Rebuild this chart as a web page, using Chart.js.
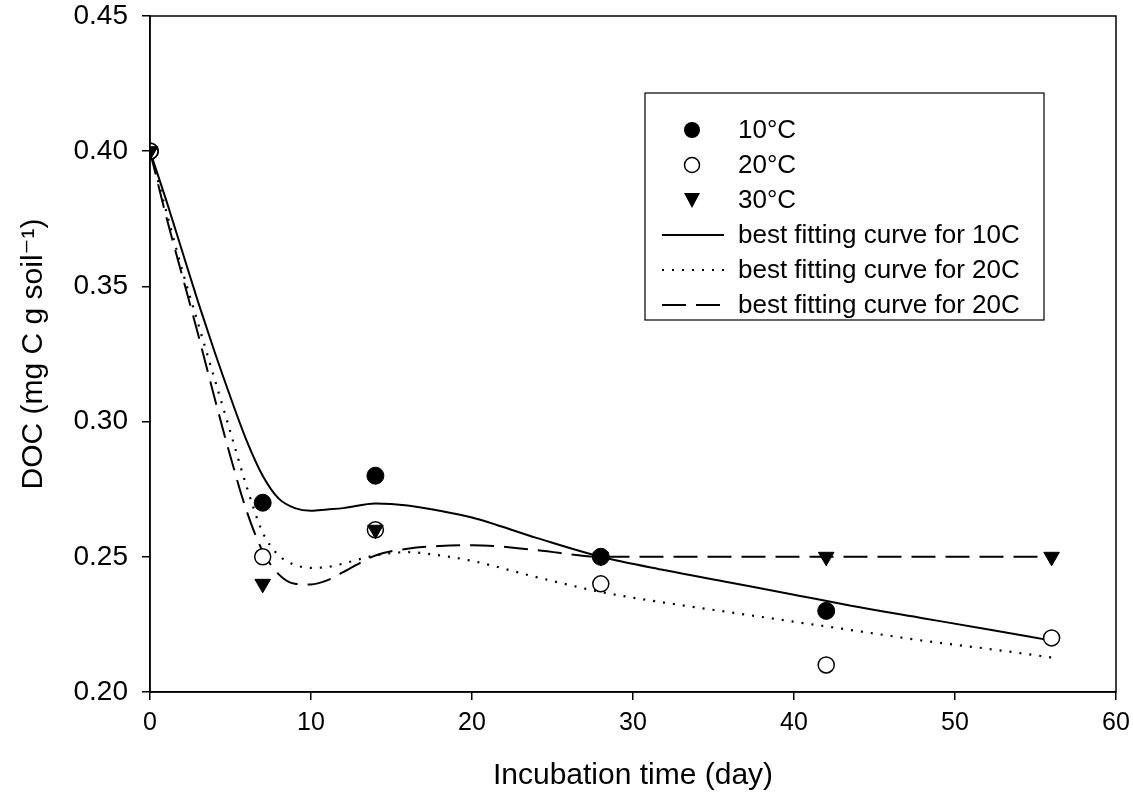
<!DOCTYPE html>
<html>
<head>
<meta charset="utf-8">
<script src="https://cdn.jsdelivr.net/npm/chart.js@4.4.1/dist/chart.umd.min.js"></script>
<style>
  html, body { margin: 0; padding: 0; background: #fff; }
  #wrap { width: 1133px; height: 805px; }
</style>
</head>
<body>
<div id="wrap"><canvas id="docChart" width="1133" height="805"></canvas></div>
<script>
// DONNÉES MESURÉES
const sampleDays = [0, 7, 14, 28, 42, 56];
const doc10 = [0.40, 0.27, 0.28, 0.25, 0.23, null];
const doc20 = [0.40, 0.25, 0.26, 0.24, 0.21, 0.22];
const doc30 = [0.40, 0.24, 0.26, 0.25, 0.25, 0.25];

// COURBES AJUSTÉES
const curveDays = [0, 1, 2, 3, 4, 5, 6, 7, 8, 9, 10, 11, 12, 14, 16, 18, 20, 24, 28, 32, 36, 40, 44, 48, 52, 56];
const fit10 = [0.400, 0.382, 0.363, 0.344, 0.326, 0.309, 0.293, 0.280, 0.2715, 0.268, 0.267, 0.2675, 0.268, 0.2697, 0.269, 0.267, 0.2645, 0.257, 0.250, 0.245, 0.2405, 0.236, 0.2314, 0.2273, 0.2232, 0.219];
const fit20 = [0.400, 0.378, 0.356, 0.336, 0.316, 0.296, 0.276, 0.259, 0.2505, 0.247, 0.2459, 0.2462, 0.2475, 0.2505, 0.2517, 0.2505, 0.2485, 0.2425, 0.237, 0.233, 0.2295, 0.226, 0.2225, 0.219, 0.216, 0.2128];
const fit30 = [0.400, 0.376, 0.354, 0.332, 0.309, 0.287, 0.267, 0.252, 0.2435, 0.2400, 0.2398, 0.2413, 0.2443, 0.2505, 0.253, 0.254, 0.2543, 0.2525, 0.250, 0.250, 0.250, 0.250, 0.250, 0.250, 0.250, 0.250];

const seriesLabels = ['10\u00B0C', '20\u00B0C', '30\u00B0C'];
const curveLabels = ['best fitting curve for 10C', 'best fitting curve for 20C', 'best fitting curve for 20C'];
const xTicks = [0, 10, 20, 30, 40, 50, 60];
const yTicks = [0.20, 0.25, 0.30, 0.35, 0.40, 0.45];

const FONT = '"Liberation Sans", Arial, "DejaVu Sans", sans-serif';

function pairs(xs, ys) {
  return xs.map((x, i) => ({ x: x, y: ys[i] })).filter(p => p.y !== null);
}

// CADRE + LÉGENDE
const framePlugin = {
  id: 'frame',
  afterDraw(chart) {
    const ctx = chart.ctx;
    const a = chart.chartArea;
    ctx.save();
    ctx.strokeStyle = '#000';
    ctx.lineWidth = 1.5;
    ctx.strokeRect(a.left, a.top, a.right - a.left, a.bottom - a.top);

    // boîte de légende
    const box = { left: 645, top: 93, right: 1044, bottom: 320 };
    ctx.fillStyle = '#fff';
    ctx.fillRect(box.left, box.top, box.right - box.left, box.bottom - box.top);
    ctx.lineWidth = 1.2;
    ctx.strokeRect(box.left, box.top, box.right - box.left, box.bottom - box.top);

    ctx.font = '26px ' + FONT;
    ctx.textBaseline = 'middle';
    ctx.fillStyle = '#000';
    const ds = chart.data.datasets;
    const rowY = i => 130 + i * 35;
    const mx = 692;

    // marqueurs
    ctx.beginPath(); ctx.arc(mx, rowY(0), 8, 0, Math.PI * 2); ctx.fill();
    ctx.beginPath(); ctx.arc(mx, rowY(1), 7.5, 0, Math.PI * 2); ctx.lineWidth = 1.5; ctx.stroke();
    ctx.beginPath();
    ctx.moveTo(mx - 8, rowY(2) - 7); ctx.lineTo(mx + 8, rowY(2) - 7); ctx.lineTo(mx, rowY(2) + 8);
    ctx.closePath(); ctx.fill();

    // traits
    for (let k = 0; k < 3; k++) {
      const d = ds[3 + k];
      ctx.beginPath();
      ctx.setLineDash(d.borderDash || []);
      ctx.lineWidth = d.borderWidth;
      ctx.moveTo(662, rowY(3 + k));
      ctx.lineTo(724, rowY(3 + k));
      ctx.stroke();
    }
    ctx.setLineDash([]);

    for (let i = 0; i < 6; i++) {
      ctx.fillText(ds[i].label, 738, rowY(i) + 1);
    }
    ctx.restore();
  }
};

const ctx = document.getElementById('docChart').getContext('2d');
const myChart = new Chart(ctx, {
  type: 'scatter',
  data: {
    datasets: [
      { label: seriesLabels[0], data: pairs(sampleDays, doc10), pointStyle: 'circle', pointRadius: 8.5,
        backgroundColor: '#000', borderColor: '#000', borderWidth: 1, order: 2 },
      { label: seriesLabels[1], data: pairs(sampleDays, doc20), pointStyle: 'circle', pointRadius: 8,
        backgroundColor: '#fff', borderColor: '#000', borderWidth: 1.5, order: 1 },
      { label: seriesLabels[2], data: pairs(sampleDays, doc30), pointStyle: 'triangle', pointRotation: 180, pointRadius: 9,
        backgroundColor: '#000', borderColor: '#000', borderWidth: 1, order: 0 },
      { label: curveLabels[0], data: pairs(curveDays, fit10), showLine: true, pointRadius: 0,
        borderColor: '#000', borderWidth: 2, cubicInterpolationMode: 'monotone', order: 5 },
      { label: curveLabels[1], data: pairs(curveDays, fit20), showLine: true, pointRadius: 0,
        borderColor: '#000', borderWidth: 2.2, borderDash: [2, 8], cubicInterpolationMode: 'monotone', order: 4 },
      { label: curveLabels[2], data: pairs(curveDays, fit30), showLine: true, pointRadius: 0,
        borderColor: '#000', borderWidth: 2, borderDash: [24, 10], cubicInterpolationMode: 'monotone', order: 3 }
    ]
  },
  options: {
    responsive: false,
    devicePixelRatio: 1,
    animation: false,
    layout: { padding: { left: 0, top: 16, right: 17, bottom: 0 } },
    plugins: { legend: { display: false }, tooltip: { enabled: false } },
    scales: {
      x: {
        type: 'linear', min: 0, max: 60,
        afterBuildTicks: s => { s.ticks = xTicks.map(v => ({ value: v })); },
        afterFit: s => { s.height = 113; s.paddingLeft = 0; s.paddingRight = 0; },
        grid: { display: true, drawOnChartArea: false, drawTicks: true, tickLength: 8, color: '#000', lineWidth: 1.5 },
        border: { display: true, color: '#000', width: 1.5 },
        ticks: { color: '#000', padding: 8, maxRotation: 0, font: { family: FONT, size: 25 } },
        title: { display: true, text: 'Incubation time (day)', color: '#000',
                 font: { family: FONT, size: 30 }, padding: { top: 0, bottom: 11 } }
      },
      y: {
        type: 'linear', min: 0.2, max: 0.45,
        afterBuildTicks: s => { s.ticks = yTicks.map(v => ({ value: v })); },
        afterFit: s => { s.width = 150; s.paddingTop = 0; s.paddingBottom = 0; },
        grid: { display: true, drawOnChartArea: false, drawTicks: true, tickLength: 8, color: '#000', lineWidth: 1.5 },
        border: { display: true, color: '#000', width: 1.5 },
        ticks: { color: '#000', padding: 14, font: { family: FONT, size: 28 },
                 callback: v => Number(v).toFixed(2) },
        title: { display: true, text: 'DOC (mg C g soil\u207B\u00B9)', color: '#000',
                 font: { family: FONT, size: 30 }, padding: { top: 16, bottom: 0 } }
      }
    }
  },
  plugins: [framePlugin]
});
</script>
</body>
</html>
